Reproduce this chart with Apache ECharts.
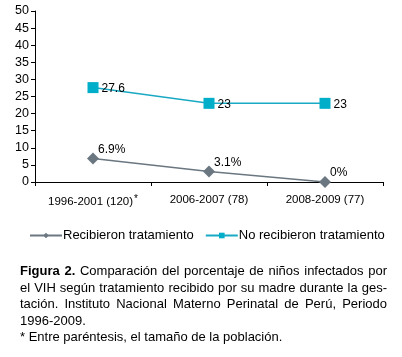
<!DOCTYPE html>
<html><head><meta charset="utf-8">
<script src="https://cdn.jsdelivr.net/npm/echarts@6/dist/echarts.min.js"></script>
<style>
html,body{margin:0;padding:0;background:#fff;}
#c{position:absolute;left:0;top:0;width:402px;height:357px;}
#cap{position:absolute;left:20px;top:263px;width:367px;font-family:"Liberation Sans",Arial,sans-serif;font-size:13px;line-height:16.6px;color:#000;text-align:justify;}
</style></head><body>
<div id="c"></div>
<div id="cap"><b>Figura 2.</b> Comparación del porcentaje de niños infectados por el VIH según tratamiento recibido por su madre durante la ges-tación. Instituto Nacional Materno Perinatal de Perú, Periodo 1996-2009.<br>* Entre paréntesis, el tamaño de la población.</div>
<script>
var categories = ['1996-2001 (120)', '2006-2007 (78)', '2008-2009 (77)'];
var recibieron = [6.9, 3.1, 0];
var noRecibieron = [27.6, 23, 23];
var yTicks = [0, 5, 10, 15, 20, 25, 30, 35, 40, 45, 50];
var font = '"Liberation Sans",Arial,sans-serif';
var chart = echarts.init(document.getElementById('c'));
chart.setOption({
  animation: false,
  textStyle: {fontFamily: font},
  grid: {left: 35, right: 19, top: 11, bottom: 175, containLabel: false},
  legend: {
    top: 224, left: 24, itemGap: 11, itemWidth: 32, itemHeight: 7,
    textStyle: {fontFamily: font, fontSize: 13, color: '#000', padding: [0, 0, 0, -4]},
    data: ['Recibieron tratamiento', 'No recibieron tratamiento']
  },
  xAxis: {
    type: 'category', data: categories, boundaryGap: true,
    axisLine: {lineStyle: {color: '#000', width: 1}},
    axisTick: {show: true, length: 4, lineStyle: {color: '#000'}},
    axisLabel: {
      interval: 0,
      color: '#000', fontSize: 11.5, margin: 12, fontFamily: font,
      formatter: function (v, i) { return i === 0 ? v + '{s|*}' : v; },
      rich: {s: {fontSize: 10, verticalAlign: 'top', padding: [0, 0, 6, 1], color: '#000'}}
    }
  },
  yAxis: {
    type: 'value', min: yTicks[0], max: yTicks[yTicks.length - 1], interval: 5,
    splitLine: {show: false},
    axisLine: {show: true, lineStyle: {color: '#000', width: 1}},
    axisTick: {show: true, length: 4, lineStyle: {color: '#000'}},
    axisLabel: {color: '#000', fontSize: 12.5, margin: 6, fontFamily: font}
  },
  series: [
    {
      name: 'Recibieron tratamiento', type: 'line', data: recibieron,
      symbol: 'diamond', symbolSize: 12,
      itemStyle: {color: '#6a7780'},
      lineStyle: {color: '#6a7780', width: 1.5},
      label: {show: true, position: 'right', offset: [-6, -9], formatter: '{c}%', color: '#000', fontSize: 12, fontFamily: font}
    },
    {
      name: 'No recibieron tratamiento', type: 'line', data: noRecibieron,
      symbol: 'rect', symbolSize: 11,
      itemStyle: {color: '#00aec9'},
      lineStyle: {color: '#19a9c4', width: 1.5},
      label: {show: true, position: 'right', offset: [-2, 1], color: '#000', fontSize: 12, fontFamily: font}
    }
  ]
});
</script>
</body></html>
